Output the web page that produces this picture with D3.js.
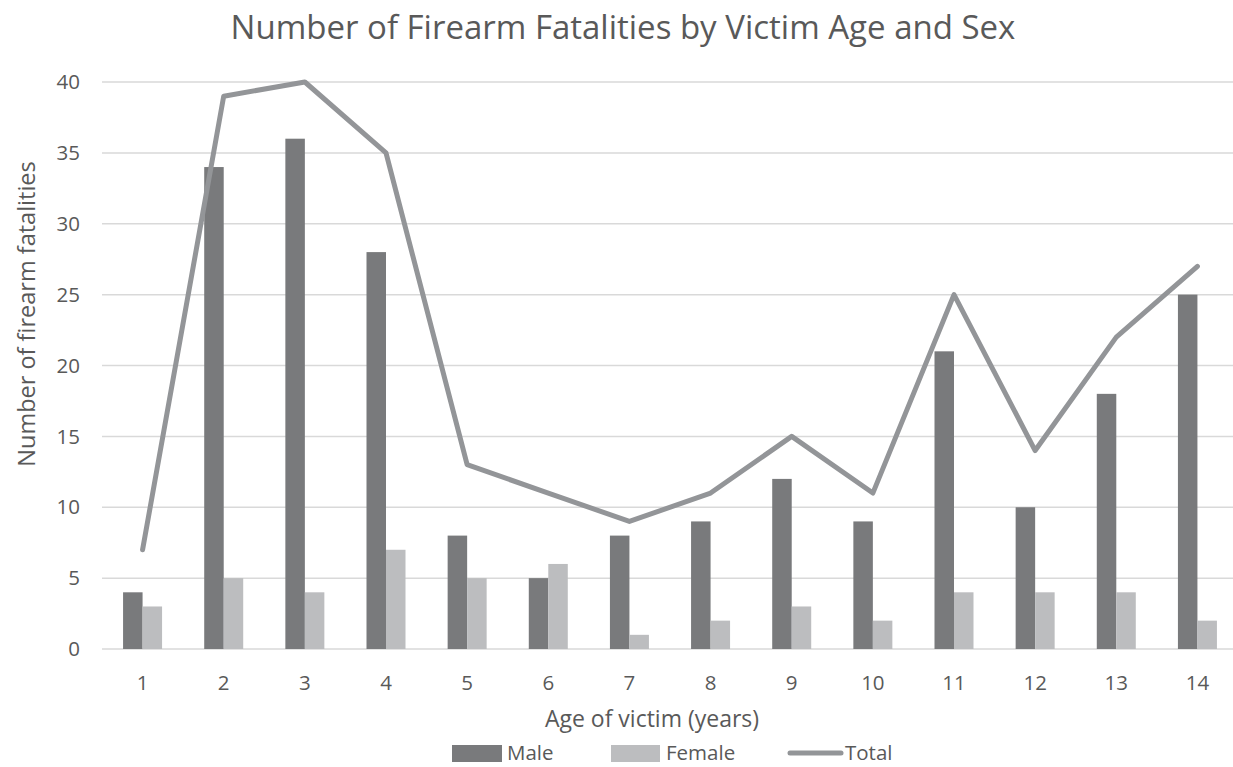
<!DOCTYPE html>
<html>
<head>
<meta charset="utf-8">
<script src="https://cdn.jsdelivr.net/npm/d3@7"></script>
<style>
  body { margin: 0; background: #fff; }
  svg text { font-family: "Open Sans", sans-serif; fill: #595959; }
</style>
</head>
<body>
<div id="chart"></div>
<script>
// ─── data ────────────────────────────────────────────────────────────────────
const ages = ["1", "2", "3", "4", "5", "6", "7", "8", "9", "10", "11", "12", "13", "14"];
const male = [4, 34, 36, 28, 8, 5, 8, 9, 12, 9, 21, 10, 18, 25];
const female = [3, 5, 4, 7, 5, 6, 1, 2, 3, 2, 4, 4, 4, 2];
const total = [7, 39, 40, 35, 13, 11, 9, 11, 15, 11, 25, 14, 22, 27];
const yTicks = [0, 5, 10, 15, 20, 25, 30, 35, 40];

const COLOR_MALE = "#797a7c";
const COLOR_FEMALE = "#bcbdbf";
const COLOR_TOTAL = "#939598";
const COLOR_GRID = "#d9d9d9";

const width = 1233, height = 767;
const svg = d3.select("#chart").append("svg")
    .attr("width", width)
    .attr("height", height);

const x = d3.scaleBand().domain(ages).range([102, 1238]);
const y = d3.scaleLinear().domain([0, 40]).range([649, 82]);
const barW = 19.5;

// gridlines
svg.append("g").selectAll("line")
    .data(yTicks)
    .join("line")
    .attr("x1", 102).attr("x2", width)
    .attr("y1", d => y(d)).attr("y2", d => y(d))
    .attr("stroke", COLOR_GRID)
    .attr("stroke-width", 1.5);

// y tick labels
svg.append("g").selectAll("text")
    .data(yTicks)
    .join("text")
    .attr("x", 80).attr("y", d => y(d))
    .attr("dy", "0.35em")
    .attr("text-anchor", "end")
    .attr("font-size", 20.5)
    .text(d => d);

// x tick labels
svg.append("g").selectAll("text")
    .data(ages)
    .join("text")
    .attr("x", d => x(d) + x.bandwidth() / 2)
    .attr("y", 690)
    .attr("text-anchor", "middle")
    .attr("font-size", 20.5)
    .text(d => d);

// bars
const center = (i) => x(ages[i]) + x.bandwidth() / 2;
svg.append("g").selectAll("rect")
    .data(male)
    .join("rect")
    .attr("x", (d, i) => center(i) - barW)
    .attr("width", barW)
    .attr("y", d => y(d))
    .attr("height", d => y(0) - y(d))
    .attr("fill", COLOR_MALE);

svg.append("g").selectAll("rect")
    .data(female)
    .join("rect")
    .attr("x", (d, i) => center(i))
    .attr("width", barW)
    .attr("y", d => y(d))
    .attr("height", d => y(0) - y(d))
    .attr("fill", COLOR_FEMALE);

// total line
const line = d3.line()
    .x((d, i) => center(i))
    .y(d => y(d));

svg.append("path")
    .datum(total)
    .attr("d", line)
    .attr("fill", "none")
    .attr("stroke", COLOR_TOTAL)
    .attr("stroke-width", 5)
    .attr("stroke-linejoin", "round")
    .attr("stroke-linecap", "round");

// titles
svg.append("text")
    .attr("x", 623).attr("y", 39)
    .attr("text-anchor", "middle")
    .attr("font-size", 33)
    .text("Number of Firearm Fatalities by Victim Age and Sex");

svg.append("text")
    .attr("x", 652).attr("y", 727)
    .attr("text-anchor", "middle")
    .attr("font-size", 23)
    .text("Age of victim (years)");

svg.append("text")
    .attr("transform", "translate(35,314) rotate(-90)")
    .attr("text-anchor", "middle")
    .attr("font-size", 23.5)
    .text("Number of firearm fatalities");

// legend
const legend = svg.append("g");
legend.append("rect").attr("x", 452).attr("y", 745).attr("width", 50).attr("height", 17).attr("fill", COLOR_MALE);
legend.append("text").attr("x", 507).attr("y", 760).attr("font-size", 20.5).text("Male");
legend.append("rect").attr("x", 611).attr("y", 745).attr("width", 49).attr("height", 17).attr("fill", COLOR_FEMALE);
legend.append("text").attr("x", 666).attr("y", 760).attr("font-size", 20.5).text("Female");
legend.append("line").attr("x1", 790).attr("x2", 841).attr("y1", 753).attr("y2", 753)
    .attr("stroke", COLOR_TOTAL).attr("stroke-width", 5).attr("stroke-linecap", "round");
legend.append("text").attr("x", 845).attr("y", 760).attr("font-size", 20.5).text("Total");
</script>
</body>
</html>
